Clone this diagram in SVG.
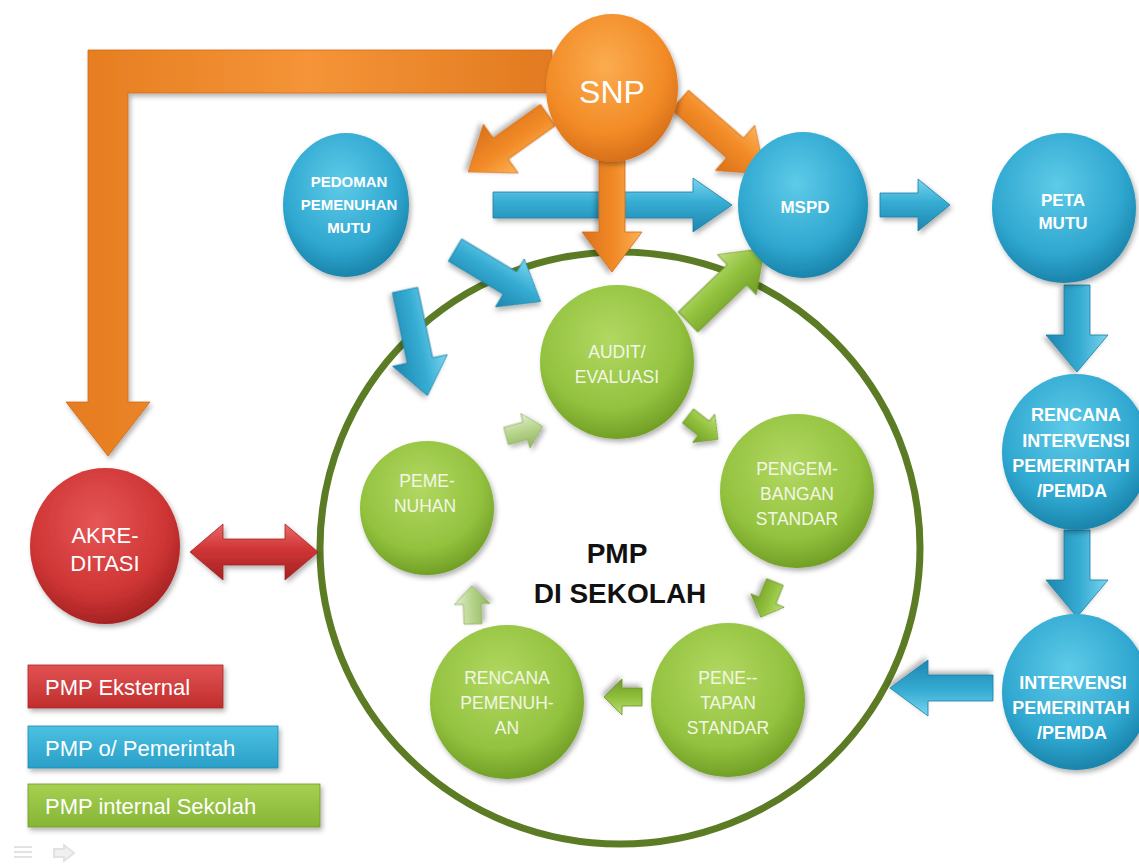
<svg xmlns="http://www.w3.org/2000/svg" width="1139" height="865" viewBox="0 0 1139 865">
<defs>
<radialGradient id="gBlue" cx="45%" cy="35%" r="65%"><stop offset="0" stop-color="#5ecbe8"/><stop offset="0.7" stop-color="#2fa7d0"/><stop offset="1" stop-color="#1a84ab"/></radialGradient>
<radialGradient id="gGreen" cx="45%" cy="35%" r="65%"><stop offset="0" stop-color="#b2d862"/><stop offset="0.7" stop-color="#93c23f"/><stop offset="1" stop-color="#72a026"/></radialGradient>
<radialGradient id="gOrange" cx="45%" cy="35%" r="65%"><stop offset="0" stop-color="#fbac50"/><stop offset="0.7" stop-color="#f28b26"/><stop offset="1" stop-color="#d8701a"/></radialGradient>
<radialGradient id="gRed" cx="45%" cy="35%" r="65%"><stop offset="0" stop-color="#e65656"/><stop offset="0.7" stop-color="#cf3535"/><stop offset="1" stop-color="#a72323"/></radialGradient>
<linearGradient id="aBlue" x1="0" y1="0" x2="0" y2="1"><stop offset="0" stop-color="#7ad5ef"/><stop offset="0.45" stop-color="#36acd3"/><stop offset="1" stop-color="#1d86ae"/></linearGradient>
<linearGradient id="aOrange" x1="0" y1="0" x2="0" y2="1"><stop offset="0" stop-color="#fbb25a"/><stop offset="0.45" stop-color="#f28b26"/><stop offset="1" stop-color="#d9721b"/></linearGradient>
<linearGradient id="aOrangeL" x1="0" y1="0" x2="1" y2="0"><stop offset="0" stop-color="#e57c1f"/><stop offset="0.5" stop-color="#f59438"/><stop offset="1" stop-color="#e27a20"/></linearGradient>
<linearGradient id="aGreen" x1="0" y1="0" x2="0" y2="1"><stop offset="0" stop-color="#bde07a"/><stop offset="0.45" stop-color="#93c23f"/><stop offset="1" stop-color="#6f9c25"/></linearGradient>
<linearGradient id="aPale" x1="0" y1="0" x2="0" y2="1"><stop offset="0" stop-color="#e3efcf"/><stop offset="0.5" stop-color="#b5d38a"/><stop offset="1" stop-color="#8fb35e"/></linearGradient>
<linearGradient id="aRed" x1="0" y1="0" x2="0" y2="1"><stop offset="0" stop-color="#ea6a6a"/><stop offset="0.45" stop-color="#cf3535"/><stop offset="1" stop-color="#a52222"/></linearGradient>
<linearGradient id="lRed" x1="0" y1="0" x2="0" y2="1"><stop offset="0" stop-color="#e25252"/><stop offset="1" stop-color="#c02d2d"/></linearGradient>
<linearGradient id="lBlue" x1="0" y1="0" x2="0" y2="1"><stop offset="0" stop-color="#4cc1e2"/><stop offset="1" stop-color="#2a9fc8"/></linearGradient>
<linearGradient id="lGreen" x1="0" y1="0" x2="0" y2="1"><stop offset="0" stop-color="#a6d052"/><stop offset="1" stop-color="#86b535"/></linearGradient>
<filter id="sh" x="-20%" y="-20%" width="140%" height="140%"><feDropShadow dx="2" dy="3" stdDeviation="2.5" flood-color="#000" flood-opacity="0.3"/></filter>
</defs>
<style>
.t{font-family:"Liberation Sans",Arial,sans-serif;fill:#fff;text-anchor:middle}
.b{font-weight:bold}
.bl{font-size:15px;font-weight:bold}
.gl{font-size:17.5px;fill:#f2f7e4}
.lg{font-family:"Liberation Sans",Arial,sans-serif;fill:#fff;font-size:22px}
.ab{fill:url(#aBlue);stroke:#1b7fa3;stroke-width:0.8}
.ao{fill:url(#aOrange);stroke:#d06a16;stroke-width:0.8}
.ag{fill:url(#aGreen);stroke:#6a9522;stroke-width:0.8}
.ap{fill:url(#aPale);stroke:#8fae64;stroke-width:0.8}
</style>
<rect width="1139" height="865" fill="#fff"/>

<g id="pmp-circle">
<ellipse cx="620" cy="548" rx="300" ry="296" fill="none" stroke="#5b7c24" stroke-width="7"/>
</g>

<g id="connectors">
<path d="M88,50 L552,50 L552,93 L128,93 L128,402 L150,402 L108,456 L66,402 L88,402 Z" fill="url(#aOrangeL)" stroke="#d06a16" stroke-width="0.8" filter="url(#sh)"/>
<path class="ab" filter="url(#sh)" d="M0,-13 L200,-13 L200,-27 L239,0 L200,27 L200,13 L0,13 Z" transform="translate(493,205)"/>
<path class="ao" filter="url(#sh)" d="M0,-13 L58,-13 L58,-30 L98,0 L58,30 L58,13 L0,13 Z" transform="translate(548,115) rotate(144.5)"/>
<path class="ao" filter="url(#sh)" d="M0,-13 L82,-13 L82,-30 L122,0 L82,30 L82,13 L0,13 Z" transform="translate(612,150) rotate(90)"/>
<path class="ao" filter="url(#sh)" d="M0,-13 L73,-13 L73,-30 L113,0 L73,30 L73,13 L0,13 Z" transform="translate(680,100) rotate(41)"/>
<path class="ab" filter="url(#sh)" d="M0,-13 L64,-13 L64,-28 L100,0 L64,28 L64,13 L0,13 Z" transform="translate(455,250) rotate(31)"/>
<path class="ab" filter="url(#sh)" d="M0,-13 L72,-13 L72,-28 L108,0 L72,28 L72,13 L0,13 Z" transform="translate(405,290) rotate(78)"/>
<path class="ab" filter="url(#sh)" d="M0,-12 L38,-12 L38,-26 L70,0 L38,26 L38,12 L0,12 Z" transform="translate(880,205)"/>
<path class="ab" filter="url(#sh)" d="M0,-13 L50,-13 L50,-31 L87,0 L50,31 L50,13 L0,13 Z" transform="translate(1077,285) rotate(90)"/>
<path class="ab" filter="url(#sh)" d="M0,-13 L50,-13 L50,-31 L87,0 L50,31 L50,13 L0,13 Z" transform="translate(1077,530) rotate(90)"/>
<path class="ab" filter="url(#sh)" d="M0,-13 L65,-13 L65,-28 L103,0 L65,28 L65,13 L0,13 Z" transform="translate(993,688) rotate(180)"/>
<path class="ag" filter="url(#sh)" d="M0,-14 L68,-14 L68,-28 L106,0 L68,28 L68,14 L0,14 Z" transform="translate(688,322) rotate(-44)"/>
<path d="M190,552 L223,524 L223,539 L285,539 L285,524 L318,552 L285,580 L285,565 L223,565 L223,580 Z" fill="url(#aRed)" stroke="#a52222" stroke-width="0.8" filter="url(#sh)"/>
<path class="ap" filter="url(#sh)" d="M0,-9 L20,-9 L20,-18 L38,0 L20,18 L20,9 L0,9 Z" transform="translate(506,436) rotate(-15)"/>
<path class="ag" filter="url(#sh)" d="M0,-9 L20,-9 L20,-18 L38,0 L20,18 L20,9 L0,9 Z" transform="translate(688,416) rotate(38)"/>
<path class="ag" filter="url(#sh)" d="M0,-9 L20,-9 L20,-18 L38,0 L20,18 L20,9 L0,9 Z" transform="translate(775,582) rotate(112)"/>
<path class="ag" filter="url(#sh)" d="M0,-9 L20,-9 L20,-18 L38,0 L20,18 L20,9 L0,9 Z" transform="translate(642,697) rotate(180)"/>
<path class="ap" filter="url(#sh)" d="M0,-9 L20,-9 L20,-18 L38,0 L20,18 L20,9 L0,9 Z" transform="translate(473,624) rotate(-92)"/>
</g>

<g id="snp"><ellipse cx="612" cy="88" rx="66" ry="74" fill="url(#gOrange)" filter="url(#sh)"/><text class="t" x="612" y="103" font-size="32">SNP</text></g>
<g id="pedoman"><ellipse cx="346" cy="205" rx="63" ry="72" fill="url(#gBlue)" filter="url(#sh)"/>
<text class="t bl" x="349" y="187">PEDOMAN</text><text class="t bl" x="349" y="210">PEMENUHAN</text><text class="t bl" x="349" y="233">MUTU</text></g>
<g id="mspd"><ellipse cx="803" cy="205" rx="65" ry="73" fill="url(#gBlue)" filter="url(#sh)"/><text class="t b" x="805" y="213" font-size="17">MSPD</text></g>
<g id="peta-mutu"><ellipse cx="1064" cy="208" rx="72" ry="75" fill="url(#gBlue)" filter="url(#sh)"/>
<text class="t b" x="1063" y="206" font-size="17">PETA</text><text class="t b" x="1063" y="229" font-size="17">MUTU</text></g>
<g id="rencana-intervensi"><ellipse cx="1076" cy="452" rx="74" ry="78" fill="url(#gBlue)" filter="url(#sh)"/>
<text class="t b" x="1076" y="421" font-size="18">RENCANA</text><text class="t b" x="1076" y="447" font-size="18">INTERVENSI</text><text class="t b" x="1071" y="472" font-size="18">PEMERINTAH</text><text class="t b" x="1072" y="497" font-size="18">/PEMDA</text></g>
<g id="intervensi"><ellipse cx="1076" cy="692" rx="74" ry="78" fill="url(#gBlue)" filter="url(#sh)"/>
<text class="t b" x="1073" y="689" font-size="18">INTERVENSI</text><text class="t b" x="1071" y="714" font-size="18">PEMERINTAH</text><text class="t b" x="1072" y="739" font-size="18">/PEMDA</text></g>
<g id="akreditasi"><ellipse cx="105" cy="546" rx="75" ry="78" fill="url(#gRed)" filter="url(#sh)"/>
<text class="t" x="105" y="543" font-size="22">AKRE-</text><text class="t" x="105" y="571" font-size="22">DITASI</text></g>

<g id="audit"><circle cx="617" cy="362" r="77" fill="url(#gGreen)" filter="url(#sh)"/>
<text class="t gl" x="617" y="358">AUDIT/</text><text class="t gl" x="617" y="383">EVALUASI</text></g>
<g id="pemenuhan"><circle cx="427" cy="508" r="67" fill="url(#gGreen)" filter="url(#sh)"/>
<text class="t gl" x="427" y="487">PEME-</text><text class="t gl" x="425" y="512">NUHAN</text></g>
<g id="pengembangan"><circle cx="797" cy="491" r="77" fill="url(#gGreen)" filter="url(#sh)"/>
<text class="t gl" x="797" y="475">PENGEM-</text><text class="t gl" x="797" y="500">BANGAN</text><text class="t gl" x="797" y="525">STANDAR</text></g>
<g id="penetapan"><circle cx="728" cy="700" r="77" fill="url(#gGreen)" filter="url(#sh)"/>
<text class="t gl" x="728" y="684">PENE--</text><text class="t gl" x="728" y="709">TAPAN</text><text class="t gl" x="728" y="734">STANDAR</text></g>
<g id="rencana-pemenuhan"><circle cx="507" cy="702" r="77" fill="url(#gGreen)" filter="url(#sh)"/>
<text class="t gl" x="507" y="684">RENCANA</text><text class="t gl" x="507" y="709">PEMENUH-</text><text class="t gl" x="507" y="734">AN</text></g>

<g id="center-label">
<text x="617" y="563" font-family="Liberation Sans,Arial,sans-serif" font-weight="bold" font-size="28" text-anchor="middle" fill="#111">PMP</text>
<text x="620" y="603" font-family="Liberation Sans,Arial,sans-serif" font-weight="bold" font-size="28" text-anchor="middle" fill="#111">DI SEKOLAH</text>
</g>

<g id="legend">
<rect x="28" y="665" width="195" height="43" fill="url(#lRed)" stroke="#a82828" stroke-width="0.8" filter="url(#sh)"/>
<text class="lg" x="45" y="695">PMP Eksternal</text>
<rect x="28" y="726" width="250" height="42" fill="url(#lBlue)" stroke="#1f8ab0" stroke-width="0.8" filter="url(#sh)"/>
<text class="lg" x="45" y="756">PMP o/ Pemerintah</text>
<rect x="28" y="784" width="292" height="43" fill="url(#lGreen)" stroke="#6e9a28" stroke-width="0.8" filter="url(#sh)"/>
<text class="lg" x="45" y="814">PMP internal Sekolah</text>
</g>

<g id="slide-controls" fill="none" stroke="#e2e2e2" stroke-width="2">
<path d="M14,847 H32 M14,852 H32 M14,857 H32"/>
<path d="M54,849 H64 V845 L74,853 L64,861 V857 H54 Z" fill="#f0f0f0"/>
</g>
</svg>
